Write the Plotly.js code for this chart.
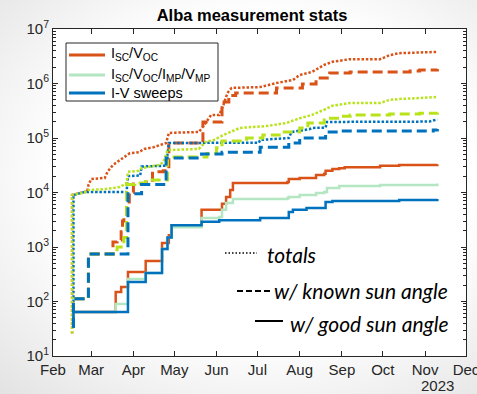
<!DOCTYPE html>
<html><head><meta charset="utf-8">
<script src="https://cdn.plot.ly/plotly-3.0.1.min.js"></script>
<style>
html,body{margin:0;padding:0;}
body{width:477px;height:394px;overflow:hidden;background:radial-gradient(ellipse 80% 75% at 55% 45%, #ffffff 55%, #e3e3e3 100%);}
#chart{width:477px;height:394px;}
</style></head><body><div id="chart"></div>
<script>
// ---- ISC/VOC ----
const iscTotDates = ['2023-02-15','2023-02-15','2023-02-24','2023-02-26','2023-02-27','2023-03-01','2023-03-11','2023-03-13','2023-03-17','2023-03-24','2023-03-29','2023-04-05','2023-04-09','2023-04-16','2023-04-25','2023-04-27','2023-05-19','2023-05-23','2023-05-28','2023-06-03','2023-06-06','2023-06-09','2023-06-12','2023-07-03','2023-07-15','2023-07-27','2023-08-01','2023-08-10','2023-08-19','2023-08-25','2023-09-07','2023-09-29','2023-10-06','2023-10-13','2023-10-28','2023-11-10'];
const iscTotVals  = [26,9000,10200,10200,13700,17700,18500,24000,32000,43000,52000,55000,63000,68000,81000,124000,129000,173000,265000,265000,400000,670000,830000,860000,1020000,1160000,1430000,1630000,2200000,2500000,2800000,2800000,3300000,3600000,3650000,3800000];
const iscKnownDates = ['2023-02-16','2023-02-16','2023-02-27','2023-03-17','2023-03-20','2023-03-23','2023-03-24','2023-03-25','2023-03-27','2023-03-29','2023-04-01','2023-04-10','2023-04-15','2023-04-23','2023-04-27','2023-05-21','2023-05-22','2023-06-05','2023-06-10','2023-06-15','2023-07-15','2023-08-03','2023-08-13','2023-08-23','2023-09-07','2023-10-21','2023-10-28','2023-11-10'];
const iscKnownVals  = [33,112,745,1240,1340,1900,3000,3550,6000,10000,14300,15600,24000,25000,81000,83000,197000,460000,600000,670000,830000,980000,1260000,1560000,1630000,1700000,1770000,1850000];
const iscGoodDates = ['2023-02-16','2023-02-16','2023-03-19','2023-03-23','2023-03-28','2023-04-10','2023-04-22','2023-04-27','2023-04-29','2023-05-21','2023-06-05','2023-06-08','2023-06-11','2023-06-13','2023-07-23','2023-07-24','2023-08-01','2023-08-13','2023-08-19','2023-08-20','2023-08-25','2023-08-30','2023-09-03','2023-09-29','2023-10-13','2023-11-10'];
const iscGoodVals  = [33,64,149,185,348,553,1180,1650,2500,4800,6200,8300,11100,15000,15600,17700,18500,21000,22000,25000,27000,28000,29000,31000,32000,33000];

// ---- ISC/VOC/IMP/VMP ----
const mppTotDates = ['2023-02-15','2023-02-15','2023-02-24','2023-02-27','2023-03-12','2023-03-22','2023-03-27','2023-03-28','2023-04-05','2023-04-07','2023-04-20','2023-04-23','2023-04-26','2023-05-19','2023-05-24','2023-05-30','2023-06-05','2023-06-11','2023-06-18','2023-07-08','2023-07-22','2023-08-01','2023-08-10','2023-08-19','2023-08-25','2023-09-07','2023-09-29','2023-10-06','2023-10-13','2023-10-28','2023-11-10'];
const mppTotVals  = [26,9000,10000,11100,11600,12600,15000,24000,25000,28000,32000,36000,60000,63000,85000,92000,110000,129000,153000,166000,188000,230000,265000,330000,390000,440000,440000,500000,520000,540000,565000];
const mppKnownDates = ['2023-02-16','2023-02-16','2023-02-27','2023-03-20','2023-03-25','2023-03-27','2023-04-02','2023-04-10','2023-04-26','2023-05-25','2023-06-01','2023-06-05','2023-06-23','2023-07-05','2023-07-17','2023-08-01','2023-08-07','2023-08-19','2023-08-30','2023-09-07','2023-10-06','2023-10-28','2023-11-10'];
const mppKnownVals  = [33,112,745,1000,1500,14000,15000,17000,45000,52000,66000,88000,100000,113000,129000,153000,188000,230000,250000,265000,275000,285000,295000];
const mppGoodDates = ['2023-02-16','2023-02-16','2023-03-19','2023-03-28','2023-04-10','2023-04-22','2023-04-26','2023-04-29','2023-05-21','2023-06-03','2023-06-05','2023-06-08','2023-06-13','2023-07-23','2023-07-24','2023-08-01','2023-08-13','2023-08-19','2023-08-21','2023-08-30','2023-09-29','2023-11-10'];
const mppGoodVals  = [33,64,90,259,333,920,1500,2300,3400,3550,4800,6400,7600,7900,8300,9000,9800,10200,12100,13200,13700,14700];

// ---- I-V sweeps ----
const ivTotDates = ['2023-02-16','2023-02-16','2023-02-24','2023-03-27','2023-03-28','2023-04-06','2023-04-07','2023-04-25','2023-04-27','2023-07-02','2023-07-03','2023-07-24','2023-07-26','2023-08-08','2023-08-10','2023-08-20','2023-08-21','2023-11-04','2023-11-07','2023-11-10'];
const ivTotVals  = [33,9000,10200,10200,20000,20500,30000,31000,81000,82000,92000,100000,129000,145000,153000,155000,197000,200000,210000,220000];
const ivKnownDates = ['2023-02-16','2023-02-16','2023-02-27','2023-03-28','2023-04-07','2023-04-25','2023-05-21','2023-06-05','2023-07-03','2023-07-24','2023-08-01','2023-08-20','2023-08-30','2023-11-07','2023-11-10'];
const ivKnownVals  = [33,112,745,9500,14000,43000,51000,55000,68000,81000,100000,129000,134000,140000,146000];
const ivGoodDates = ['2023-02-16','2023-02-16','2023-03-28','2023-04-10','2023-04-22','2023-04-26','2023-04-29','2023-05-21','2023-06-03','2023-07-03','2023-07-24','2023-07-27','2023-08-06','2023-08-20','2023-08-25','2023-10-13','2023-11-10'];
const ivGoodVals  = [33,64,228,333,920,1500,2500,2900,3100,3400,4400,4800,5200,6700,7000,7300,7600];

// ---- labels / ticks ----
const seriesNames = ['I<sub>SC</sub>/V<sub>OC</sub>','I<sub>SC</sub>/V<sub>OC</sub>/I<sub>MP</sub>/V<sub>MP</sub>','I-V sweeps'];
const styleNames = ['<i>totals</i>','<i>w/ known sun angle</i>','<i>w/ good sun angle</i>'];
const monthTicks = ['2023-02-01','2023-03-01','2023-04-01','2023-05-01','2023-06-01','2023-07-01','2023-08-01','2023-09-01','2023-10-01','2023-11-01','2023-12-01'];
const monthLabels = ['Feb','Mar','Apr','May','Jun','Jul','Aug','Sep','Oct','Nov','Dec'];
const yearLabel = '2023';
const yTicks = [1e1,1e2,1e3,1e4,1e5,1e6,1e7];
const yLabels = ['10<sup>1</sup>','10<sup>2</sup>','10<sup>3</sup>','10<sup>4</sup>','10<sup>5</sup>','10<sup>6</sup>','10<sup>7</sup>'];

const ORANGE='#D95319', LIME='#B8E31A', MINT='#B4E6C2', BLUE='#0072BD';
const DOT='2.5px,1.8px', DASH='10px,5px';

function tr(x,y,color,dash,shape,width,name){
  return {x:x,y:y,type:'scatter',mode:'lines',name:name,showlegend:false,
    line:{color:color,width:width,dash:dash,shape:shape},hoverinfo:'skip'};
}
const data = [
  tr(iscTotDates,iscTotVals,ORANGE,DOT,'linear',2.5,seriesNames[0]),
  tr(iscKnownDates,iscKnownVals,ORANGE,DASH,'hv',3,seriesNames[0]),
  tr(iscGoodDates,iscGoodVals,ORANGE,'solid','hv',2.5,seriesNames[0]),
  tr(ivTotDates,ivTotVals,BLUE,DOT,'linear',2.5,seriesNames[2]),
  tr(mppTotDates,mppTotVals,LIME,DOT,'linear',2.5,seriesNames[1]),
  tr(mppKnownDates,mppKnownVals,LIME,DASH,'hv',3,seriesNames[1]),
  tr(mppGoodDates,mppGoodVals,MINT,'solid','hv',2.5,seriesNames[1]),
  tr(ivKnownDates,ivKnownVals,BLUE,DASH,'hv',3,seriesNames[2]),
  tr(ivGoodDates,ivGoodVals,BLUE,'solid','hv',2.5,seriesNames[2])
];

const AX='#262626';
const FONT='Liberation Sans, Arial, sans-serif';
const IFONT='Lato, "Open Sans", sans-serif';
const L=53, R=466, T=29, B=356;
const px=(v)=>(v-L)/(R-L), py=(v)=>1-(v-T)/(B-T);

// custom legend box (series colours)
const legColors=[ORANGE,MINT,BLUE];
const legRows=[55,75,93];
const shapes=[
  {type:'rect', xref:'paper', yref:'paper', x0:px(66), x1:px(218), y0:py(43), y1:py(101), fillcolor:'#ffffff', line:{color:AX, width:1}, layer:'above'}
];
const annotations=[];
legColors.forEach((c,i)=>{
  shapes.push({type:'line', xref:'paper', yref:'paper', x0:px(69), x1:px(105), y0:py(legRows[i]), y1:py(legRows[i]), line:{color:c, width:3}, layer:'above'});
  annotations.push({xref:'paper', yref:'paper', x:px(109), y:py(legRows[i]-0.5), xanchor:'left', yanchor:'middle', showarrow:false,
    text:seriesNames[i], font:{family:FONT, size:14.5, color:'#000'}});
});
// line-style key
shapes.push({type:'line', xref:'paper', yref:'paper', x0:px(225), x1:px(257), y0:py(253), y1:py(253), line:{color:'#000', width:1.5, dash:'1.5px,2px'}});
shapes.push({type:'line', xref:'paper', yref:'paper', x0:px(237), x1:px(272), y0:py(291), y1:py(291), line:{color:'#000', width:2, dash:'6px,3px'}});
shapes.push({type:'line', xref:'paper', yref:'paper', x0:px(255), x1:px(283), y0:py(321), y1:py(321), line:{color:'#000', width:2}});
annotations.push({xref:'paper', yref:'paper', x:px(265), y:py(254), xanchor:'left', yanchor:'middle', showarrow:false,
   text:styleNames[0], font:{family:IFONT, size:21, color:'#000'}});
annotations.push({xref:'paper', yref:'paper', x:px(450), y:py(290), xanchor:'right', yanchor:'middle', showarrow:false,
   text:styleNames[1], font:{family:IFONT, size:21, color:'#000'}});
annotations.push({xref:'paper', yref:'paper', x:px(450), y:py(323), xanchor:'right', yanchor:'middle', showarrow:false,
   text:styleNames[2], font:{family:IFONT, size:21, color:'#000'}});
annotations.push({xref:'paper', yref:'paper', x:px(437.5), y:py(385), xanchor:'center', yanchor:'middle', showarrow:false,
   text:yearLabel, font:{family:FONT, size:15, color:AX}});

const layout = {
  width:477, height:394,
  margin:{l:L, r:477-R, t:T, b:394-B, pad:0},
  paper_bgcolor:'rgba(0,0,0,0)', plot_bgcolor:'#ffffff',
  font:{family:FONT, color:AX},
  title:{text:'<b>Alba measurement stats</b>', x:252/477, xanchor:'center', y:1-15/394, yanchor:'middle',
         font:{family:FONT, size:16.5, color:'#000'}},
  showlegend:false,
  xaxis:{type:'date', range:['2023-02-01','2023-12-01 00:30'], tickmode:'array', tickvals:monthTicks, ticktext:monthLabels,
         ticks:'inside', ticklen:5, tickwidth:1, tickcolor:AX, showline:true, linecolor:AX, linewidth:1, mirror:'ticks',
         ticklabeloverflow:'allow',
         showgrid:false, zeroline:false, tickfont:{family:FONT, size:15, color:AX}, fixedrange:true},
  yaxis:{type:'log', range:[1,7], tickmode:'array', tickvals:yTicks, ticktext:yLabels,
         ticks:'inside', ticklen:5, tickwidth:1, tickcolor:AX, showline:true, linecolor:AX, linewidth:1, mirror:'ticks',
         minor:{ticks:'inside', ticklen:3, tickcolor:AX, dtick:'D1', showgrid:false},
         showgrid:false, zeroline:false, tickfont:{family:FONT, size:15, color:AX}, fixedrange:true},
  annotations:annotations,
  shapes:shapes
};
Plotly.newPlot('chart', data, layout, {staticPlot:true, displayModeBar:false});
</script></body></html>
